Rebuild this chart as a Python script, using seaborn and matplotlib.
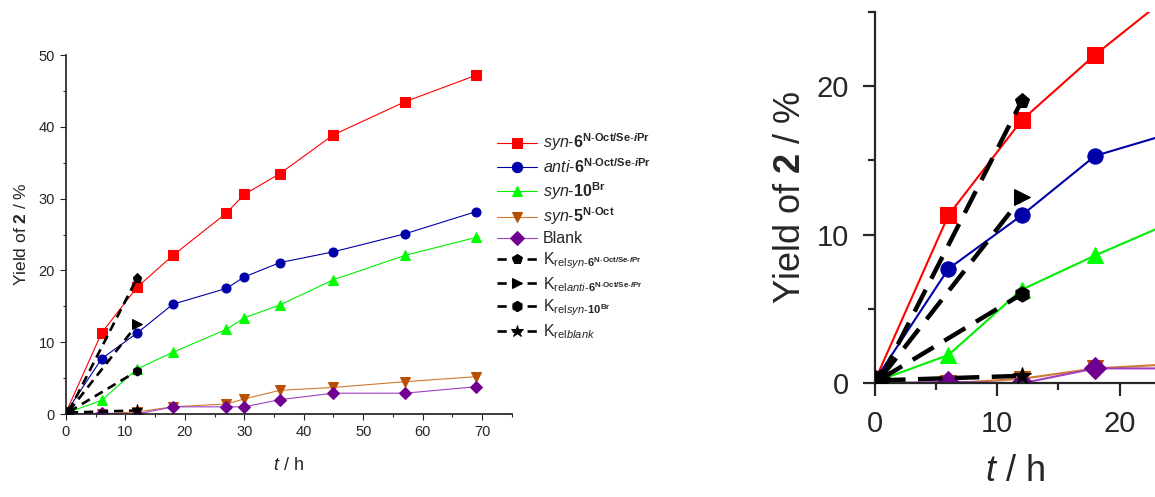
import numpy as np
import pandas as pd
import matplotlib
matplotlib.use('Agg')
import matplotlib.pyplot as plt
from matplotlib.ticker import MultipleLocator
import seaborn as sns

# Données
t_h = [0, 6, 12, 18, 27, 30, 36, 45, 57, 69]
syn6 = [0.2, 11.3, 17.7, 22.1, 28.0, 30.6, 33.5, 38.9, 43.5, 47.2]
anti6 = [0.2, 7.7, 11.3, 15.3, 17.5, 19.1, 21.1, 22.6, 25.1, 28.2]
syn10 = [0.1, 1.9, 6.3, 8.6, 11.8, 13.4, 15.2, 18.7, 22.1, 24.6]
syn5 = [0.0, 0.0, 0.3, 1.0, 1.4, 2.1, 3.3, 3.7, 4.5, 5.2]
blank = [0.0, 0.1, 0.0, 1.0, 1.0, 1.0, 2.0, 2.9, 2.9, 3.8]

t_krel = [0.5, 12]
krel_syn6 = [0.4, 19.0]
krel_anti6 = [0.4, 12.5]
krel_syn10 = [0.3, 6.0]
krel_blank = [0.2, 0.5]

sup = r'^{\mathbf{N\text{-}Oct/Se\text{-}}\mathbfit{i}\mathbf{Pr}}'
labels = [
    r'$\mathit{syn}$-$\mathbf{6}' + sup + '$',
    r'$\mathit{anti}$-$\mathbf{6}' + sup + '$',
    r'$\mathit{syn}$-$\mathbf{10}^{\mathbf{Br}}$',
    r'$\mathit{syn}$-$\mathbf{5}^{\mathbf{N\text{-}Oct}}$',
    'Blank',
    r'K$_{\mathrm{rel}\mathit{syn}\text{-}\mathbf{6}' + sup + '}$',
    r'K$_{\mathrm{rel}\mathit{anti}\text{-}\mathbf{6}' + sup + '}$',
    r'K$_{\mathrm{rel}\mathit{syn}\text{-}\mathbf{10}^{\mathbf{Br}}}$',
    r'K$_{\mathrm{rel}\mathit{blank}}$',
]

series = [
    (t_h, syn6, '#FF0000', '#FF0000', 's', '-'),
    (t_h, anti6, '#0000A8', '#0000A8', 'o', '-'),
    (t_h, syn10, '#00EE00', '#00FF00', '^', '-'),
    (t_h, syn5, '#D07A30', '#B85000', 'v', '-'),
    (t_h, blank, '#A040C0', '#700090', 'D', '-'),
    (t_krel, krel_syn6, 'black', 'black', 'p', '--'),
    (t_krel, krel_anti6, 'black', 'black', '>', '--'),
    (t_krel, krel_syn10, 'black', 'black', 'h', '--'),
    (t_krel, krel_blank, 'black', 'black', '*', '--'),
]

sns.set_theme(style='ticks')
plt.rcParams['font.family'] = ['Liberation Sans', 'DejaVu Sans']
plt.rcParams['mathtext.fontset'] = 'custom'
plt.rcParams['mathtext.rm'] = 'Liberation Sans'
plt.rcParams['mathtext.it'] = 'Liberation Sans:italic'
plt.rcParams['mathtext.bf'] = 'Liberation Sans:bold'
plt.rcParams['mathtext.bfit'] = 'Liberation Sans:bold:italic'
plt.rcParams['xtick.direction'] = 'out'
plt.rcParams['ytick.direction'] = 'out'

fig = plt.figure(figsize=(11.55, 4.97), dpi=100)
ax1 = fig.add_axes([0.0571, 0.167, 0.386, 0.722])
ax2 = fig.add_axes([0.7576, 0.2288, 0.2424, 0.7477])


def draw(ax, small):
    handles = []
    for (x, y, lc, mc, mk, ls), lab in zip(series, labels):
        dashed = ls == '--'
        if small:
            lw = 1.9 if dashed else 0.8
            ms = 6.5 if mk != '*' else 8
        else:
            lw = 3.2 if dashed else 1.5
            ms = 11 if mk != '*' else 13
        df = pd.DataFrame({'t': x, 'y': y})
        sns.lineplot(data=df, x='t', y='y', ax=ax, color=lc, lw=lw, sort=False,
                     marker=mk, markersize=ms, markerfacecolor=mc,
                     markeredgecolor=mc, label=lab, legend=False,
                     zorder=3 if dashed else 2)
        line = ax.lines[-1]
        if dashed:
            line.set_dashes((3.5, 2.2) if small else (5.5, 2.8))
        handles.append(line)
    for s in ['top', 'right']:
        ax.spines[s].set_visible(False)
    ax.set_xlabel('')
    ax.set_ylabel('')
    return handles


handles = draw(ax1, True)
ax1.set_xlim(0, 75)
ax1.set_ylim(0, 50)
ax1.xaxis.set_major_locator(MultipleLocator(10))
ax1.xaxis.set_minor_locator(MultipleLocator(5))
ax1.yaxis.set_major_locator(MultipleLocator(10))
ax1.yaxis.set_minor_locator(MultipleLocator(5))
ax1.tick_params(which='major', length=4, width=0.8, labelsize=10.5, pad=4)
ax1.tick_params(which='minor', length=2.5, width=0.8)
ax1.set_xlabel(r'$\mathit{t}$ / h', fontsize=13, labelpad=13)
ax1.set_ylabel(r'Yield of $\mathbf{2}$ / %', fontsize=12.5, labelpad=7)

fig.legend(handles=handles, labels=labels, loc='upper left',
           bbox_to_anchor=(0.425, 0.748), frameon=False, fontsize=11.5,
           handlelength=2.5, handletextpad=0.35, labelspacing=0.25,
           borderaxespad=0, markerscale=1.15)

draw(ax2, False)
ax2.set_xlim(0, 22.9)
ax2.set_ylim(0, 25)
ax2.xaxis.set_major_locator(MultipleLocator(10))
ax2.xaxis.set_minor_locator(MultipleLocator(5))
ax2.yaxis.set_major_locator(MultipleLocator(10))
ax2.yaxis.set_minor_locator(MultipleLocator(5))
ax2.tick_params(which='major', length=9, width=1.6, labelsize=21, pad=10)
ax2.tick_params(which='minor', length=5, width=1.6)
for s in ['left', 'bottom']:
    ax2.spines[s].set_linewidth(1.6)
ax2.set_xlabel(r'$\mathit{t}$ / h', fontsize=26, labelpad=12)
ax2.set_ylabel(r'Yield of $\mathbf{2}$ / %', fontsize=26, labelpad=6)

fig.savefig('out.png', dpi=100, facecolor='white')
